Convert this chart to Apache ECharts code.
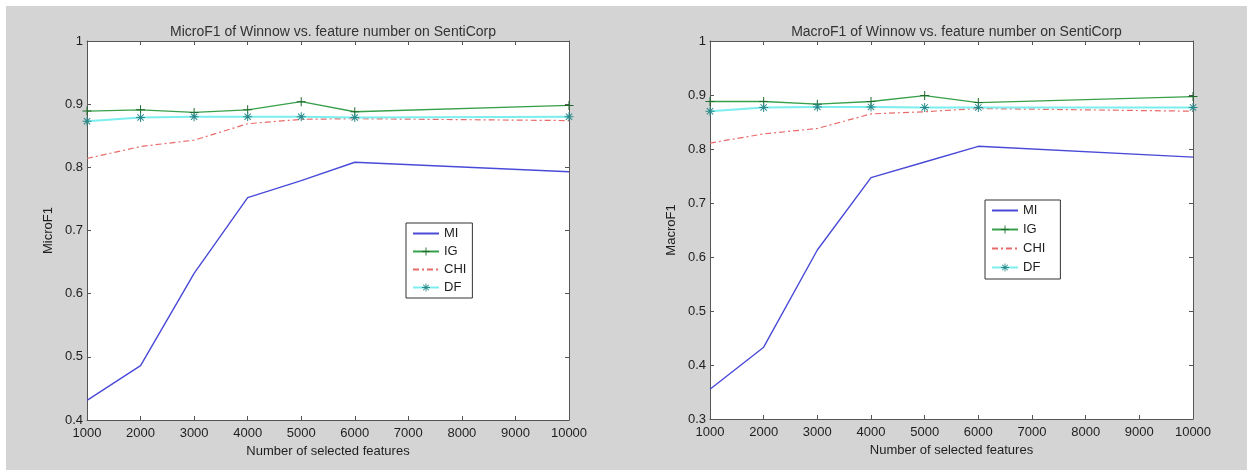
<!DOCTYPE html>
<html>
<head>
<meta charset="utf-8">
<script src="https://cdn.jsdelivr.net/npm/echarts@6/dist/echarts.min.js"></script>
<style>
  html, body { margin: 0; padding: 0; background: #ffffff; }
  #chart { position: absolute; left: 6px; top: 6px; width: 1241px; height: 464px; }
</style>
</head>
<body>
<div id="chart"></div>
<script>
// Number of selected features (x positions of the measurements)
const features = [1000, 2000, 3000, 4000, 5000, 6000, 10000];
const seriesNames = ['MI', 'IG', 'CHI', 'DF'];

// MicroF1 per feature-selection method
const microMI  = [0.431, 0.486, 0.632, 0.752, 0.779, 0.808, 0.793];
const microIG  = [0.889, 0.891, 0.887, 0.891, 0.904, 0.888, 0.898];
const microCHI = [0.814, 0.833, 0.843, 0.869, 0.876, 0.877, 0.874];
const microDF  = [0.873, 0.879, 0.880, 0.880, 0.880, 0.879, 0.880];

// MacroF1 per feature-selection method
const macroMI  = [0.355, 0.433, 0.613, 0.747, 0.776, 0.805, 0.785];
const macroIG  = [0.888, 0.888, 0.883, 0.888, 0.899, 0.886, 0.897];
const macroCHI = [0.811, 0.828, 0.838, 0.865, 0.869, 0.875, 0.870];
const macroDF  = [0.870, 0.877, 0.878, 0.878, 0.877, 0.877, 0.877];

const titles = [
  'MicroF1 of Winnow vs. feature number on SentiCorp',
  'MacroF1 of Winnow vs. feature number on SentiCorp'
];
const yNames = ['MicroF1', 'MacroF1'];
const xName = 'Number of selected features';
const yMins = [0.4, 0.3];

const FONT = '"Liberation Sans", Arial, sans-serif';
const TEXT = '#1e1e1e';
const AXIS = '#555555';

const PLUS = 'path://M4,0H5V9H4Z M0,4H9V5H0Z';
const STAR = 'path://M4,0H5V9H4Z M0,4H9V5H0Z M1,1.7L1.7,1L8,7.3L7.3,8Z M7.3,1L8,1.7L1.7,8L1,7.3Z';

const styles = {
  MI:  { color: '#4a4ad8', symbol: 'none', type: 'solid', width: 1.4, mark: '#4a4ad8' },
  IG:  { color: '#37a04a', symbol: PLUS, type: 'solid', width: 1.3, mark: '#1f6a2c' },
  CHI: { color: '#e86a6a', symbol: 'none', type: [6, 3, 2, 3], width: 1.2, mark: '#e86a6a' },
  DF:  { color: '#7ceeee', symbol: STAR, type: 'solid', width: 2, mark: '#2a8a8a' }
};

const grids = [
  { left: 81, top: 35, width: 482, height: 379, backgroundColor: '#ffffff', show: true, borderWidth: 0 },
  { left: 704, top: 35, width: 483, height: 378, backgroundColor: '#ffffff', show: true, borderWidth: 0 }
];

const pair = (vals) => features.map((f, i) => [f, vals[i]]);
const data = [
  { MI: microMI, IG: microIG, CHI: microCHI, DF: microDF },
  { MI: macroMI, IG: macroIG, CHI: macroCHI, DF: macroDF }
];

const xAxes = [], yAxes = [], series = [], titleList = [], legends = [];
const tickStyle = { show: true, inside: true, length: 4, lineStyle: { color: AXIS, width: 1 } };
const lineStyleAxis = { show: true, onZero: false, lineStyle: { color: AXIS, width: 1 } };
const labelStyle = { color: TEXT, fontFamily: FONT, fontSize: 13 };

[0, 1].forEach(g => {
  // bottom and top x axes (box frame with inward ticks)
  xAxes.push({
    type: 'value', gridIndex: g, min: 1000, max: 10000, interval: 1000,
    position: 'bottom', axisLine: lineStyleAxis, axisTick: tickStyle,
    axisLabel: Object.assign({ margin: 7, formatter: v => String(v) }, labelStyle),
    splitLine: { show: false },
    name: xName, nameLocation: 'middle', nameGap: 25,
    nameTextStyle: { color: TEXT, fontFamily: FONT, fontSize: 13 }
  });
  xAxes.push({
    type: 'value', gridIndex: g, min: 1000, max: 10000, interval: 1000,
    position: 'top', axisLine: lineStyleAxis, axisTick: tickStyle,
    axisLabel: { show: false }, splitLine: { show: false }
  });
  yAxes.push({
    type: 'value', gridIndex: g, min: yMins[g], max: 1, interval: 0.1,
    position: 'left', axisLine: lineStyleAxis, axisTick: tickStyle,
    axisLabel: Object.assign({ margin: 4 }, labelStyle), splitLine: { show: false },
    name: yNames[g], nameLocation: 'middle', nameGap: 32, nameRotate: 90,
    nameTextStyle: { color: TEXT, fontFamily: FONT, fontSize: 13 }
  });
  yAxes.push({
    type: 'value', gridIndex: g, min: yMins[g], max: 1, interval: 0.1,
    position: 'right', axisLine: lineStyleAxis, axisTick: tickStyle,
    axisLabel: { show: false }, splitLine: { show: false }
  });

  seriesNames.forEach(name => {
    const s = styles[name];
    series.push({
      type: 'line', name: name,
      xAxisIndex: g * 2, yAxisIndex: g * 2,
      data: pair(data[g][name]),
      symbol: s.symbol, symbolSize: 9, showSymbol: s.symbol !== 'none',
      lineStyle: { color: s.color, width: s.width, type: s.type },
      itemStyle: { color: s.mark },
      emphasis: { disabled: true }
    });
  });

  const gr = grids[g];
  titleList.push({
    text: titles[g], left: gr.left + gr.width / 2, top: 14, textAlign: 'center',
    textStyle: { color: '#333333', fontFamily: FONT, fontSize: 14, fontWeight: 'normal' }
  });
});

// legend entries: plain line samples for MI and CHI, line plus marker for IG and DF
const legendData = seriesNames.map(n =>
  styles[n].symbol === 'none' ? { name: n, itemStyle: { opacity: 0 } } : { name: n });

const legendBase = {
  data: legendData, orient: 'vertical',
  itemWidth: 26, itemHeight: 10, itemGap: 5,
  borderColor: '#333', borderWidth: 1, backgroundColor: '#ffffff',
  textStyle: { color: TEXT, fontFamily: FONT, fontSize: 13 }, selectedMode: false
};
legends.push(Object.assign({ left: 400, top: 217, padding: [4, 6, 4, 6] }, legendBase));
legends.push(Object.assign({ left: 979, top: 194, padding: [4, 15, 5, 6], itemGap: 6 }, legendBase, { itemGap: 6 }));

const chart = echarts.init(document.getElementById('chart'), null, { renderer: 'canvas' });
chart.setOption({
  animation: false,
  backgroundColor: '#d4d4d4',
  title: titleList,
  legend: legends,
  grid: grids,
  xAxis: xAxes,
  yAxis: yAxes,
  series: series
});
</script>
</body>
</html>
